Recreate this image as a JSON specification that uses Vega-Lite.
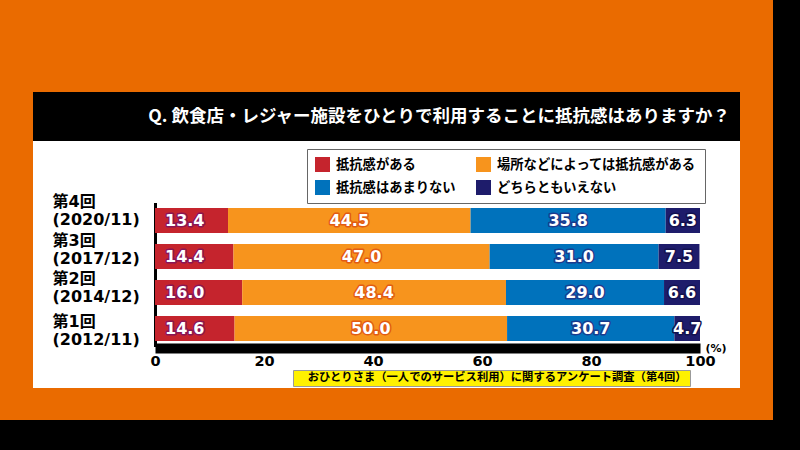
{
  "$schema": "https://vega.github.io/schema/vega-lite/v6.json",
  "background": "#EA6B00",
  "padding": 0,
  "config": {
    "view": {"stroke": null},
    "font": "Noto Sans CJK JP"
  },
  "spacing": 0,
  "resolve": {"scale": {"color": "independent", "shape": "independent", "fill": "independent", "stroke": "independent"}},
  "vconcat": [
    {
      "spacing": 0,
      "resolve": {"scale": {"color": "independent", "shape": "independent", "fill": "independent", "stroke": "independent"}},
      "hconcat": [
        {
          "width": 33, "height": 420,
          "view": {"fill": null, "stroke": null},
          "data": {"values": []},
          "mark": {"type": "point", "opacity": 0},
          "encoding": {}
        },
        {
          "spacing": 0,
          "resolve": {"scale": {"color": "independent", "shape": "independent", "fill": "independent", "stroke": "independent"}},
          "vconcat": [
            {
              "width": 707, "height": 92,
              "view": {"fill": null, "stroke": null},
              "data": {"values": []},
              "mark": {"type": "point", "opacity": 0},
              "encoding": {}
            },
            {
              "width": 707,
              "height": 49,
              "view": {"fill": "black", "stroke": null},
              "data": {"values": [{"t": "Q. 飲食店・レジャー施設をひとりで利用することに抵抗感はありますか？"}]},
              "mark": {"type": "text", "align": "right", "baseline": "middle", "dx": -10, "font": "Noto Sans CJK JP", "fontSize": 17.5, "fontWeight": "bold", "color": "white"},
              "encoding": {
                "text": {"field": "t", "type": "nominal"},
                "x": {"value": "width"}
              }
            },
            {
              "width": 707,
              "height": 247,
              "view": {"fill": "white", "stroke": null},
              "data": {"values": [
                {"round": "第4回|(2020/11)", "cat": "抵抗感がある", "k": 1, "pct": 13.4},
                {"round": "第4回|(2020/11)", "cat": "場所などによっては抵抗感がある", "k": 2, "pct": 44.5},
                {"round": "第4回|(2020/11)", "cat": "抵抗感はあまりない", "k": 3, "pct": 35.8},
                {"round": "第4回|(2020/11)", "cat": "どちらともいえない", "k": 4, "pct": 6.3},
                {"round": "第3回|(2017/12)", "cat": "抵抗感がある", "k": 1, "pct": 14.4},
                {"round": "第3回|(2017/12)", "cat": "場所などによっては抵抗感がある", "k": 2, "pct": 47.0},
                {"round": "第3回|(2017/12)", "cat": "抵抗感はあまりない", "k": 3, "pct": 31.0},
                {"round": "第3回|(2017/12)", "cat": "どちらともいえない", "k": 4, "pct": 7.5},
                {"round": "第2回|(2014/12)", "cat": "抵抗感がある", "k": 1, "pct": 16.0},
                {"round": "第2回|(2014/12)", "cat": "場所などによっては抵抗感がある", "k": 2, "pct": 48.4},
                {"round": "第2回|(2014/12)", "cat": "抵抗感はあまりない", "k": 3, "pct": 29.0},
                {"round": "第2回|(2014/12)", "cat": "どちらともいえない", "k": 4, "pct": 6.6},
                {"round": "第1回|(2012/11)", "cat": "抵抗感がある", "k": 1, "pct": 14.6},
                {"round": "第1回|(2012/11)", "cat": "場所などによっては抵抗感がある", "k": 2, "pct": 50.0},
                {"round": "第1回|(2012/11)", "cat": "抵抗感はあまりない", "k": 3, "pct": 30.7},
                {"round": "第1回|(2012/11)", "cat": "どちらともいえない", "k": 4, "pct": 4.7}
              ]},
              "layer": [
                {
                  "transform": [{"stack": "pct", "groupby": ["round"], "sort": [{"field": "k", "order": "ascending"}], "as": ["v0", "v1"]}],
                  "mark": {"type": "bar"},
                  "encoding": {
                    "x": {
                      "field": "v0", "type": "quantitative",
                      "scale": {"domain": [0, 100], "range": [122, 667], "nice": false, "zero": true},
                      "axis": {
                        "orient": "bottom", "offset": -40, "values": [0, 20, 40, 60, 80, 100], "grid": false,
                        "domainColor": "black", "domainWidth": 10, "domainCap": "butt",
                        "tickColor": "white", "tickWidth": 5, "tickSize": 1, "tickCap": "round",
                        "tickOpacity": {"condition": {"test": "datum.value == 0 || datum.value == 100", "value": 0}, "value": 1},
                        "labelPadding": 5, "labelFont": "DejaVu Sans", "labelFontSize": 14.5, "labelFontWeight": "bold", "labelColor": "black",
                        "labelFlush": false, "labelOverlap": false,
                        "title": "(%)", "titleX": 672, "titleY": 0, "titleAlign": "left", "titleBaseline": "middle",
                        "titleFont": "DejaVu Sans", "titleFontSize": 11, "titleFontWeight": "bold", "titleColor": "black", "titleAngle": 0
                      }
                    },
                    "x2": {"field": "v1"},
                    "y": {
                      "field": "round", "type": "nominal",
                      "scale": {"domain": ["第4回|(2020/11)", "第3回|(2017/12)", "第2回|(2014/12)", "第1回|(2012/11)"], "range": [61.5, 205.5], "paddingInner": 0.306, "paddingOuter": 0.153},
                      "axis": {
                        "orient": "left", "offset": -122, "title": null,
                        "domainColor": "black", "domainWidth": 3, "ticks": false, "tickSize": 0, "grid": false,
                        "labelAlign": "left", "labelPadding": 103, "labelBaseline": "middle", "labelLineHeight": 18,
                        "labelFont": "DejaVu Sans, Noto Sans CJK JP", "labelFontSize": 16, "labelFontWeight": "bold", "labelColor": "black",
                        "labelExpr": "split(datum.label, '|')",
                        "labelOffset": {"condition": [
                          {"test": "datum.value == '第4回|(2020/11)'", "value": -19},
                          {"test": "datum.value == '第3回|(2017/12)'", "value": -15.5},
                          {"test": "datum.value == '第2回|(2014/12)'", "value": -13.5}
                        ], "value": -7}
                      }
                    },
                    "color": {
                      "field": "cat", "type": "nominal",
                      "scale": {"domain": ["抵抗感がある", "場所などによっては抵抗感がある", "抵抗感はあまりない", "どちらともいえない"], "range": ["#C5242D", "#F7941D", "#0072BC", "#1E1C6B"]},
                      "legend": {
                        "orient": "none", "legendX": 274, "legendY": 8, "columns": 2, "direction": "horizontal", "title": null,
                        "symbolType": "square", "symbolSize": 225, "symbolStrokeWidth": 0, "symbolOpacity": 1,
                        "labelFont": "Noto Sans CJK JP", "labelFontSize": 13.3, "labelFontWeight": "bold", "labelColor": "black",
                        "labelOffset": 6, "labelLimit": 300, "rowPadding": 8, "columnPadding": 20, "padding": 8,
                        "strokeColor": "#666666", "fillColor": "white"
                      }
                    }
                  }
                },
                {
                  "transform": [
                    {"stack": "pct", "groupby": ["round"], "sort": [{"field": "k", "order": "ascending"}], "as": ["v0", "v1"]},
                    {"filter": "datum.k == 1"}
                  ],
                  "mark": {"type": "text", "align": "left", "baseline": "middle", "dx": 10, "font": "DejaVu Sans", "fontSize": 16, "fontWeight": "bold", "fill": "#8A1655", "stroke": "#8A1655", "strokeWidth": 3, "strokeJoin": "round"},
                  "encoding": {
                    "x": {"field": "v0", "type": "quantitative"},
                    "y": {"field": "round", "type": "nominal"},
                    "text": {"field": "pct", "type": "quantitative", "format": ".1f"}
                  }
                },
                {
                  "transform": [
                    {"stack": "pct", "groupby": ["round"], "sort": [{"field": "k", "order": "ascending"}], "as": ["v0", "v1"]},
                    {"filter": "datum.k == 1"}
                  ],
                  "mark": {"type": "text", "align": "left", "baseline": "middle", "dx": 10, "font": "DejaVu Sans", "fontSize": 16, "fontWeight": "bold", "fill": "white"},
                  "encoding": {
                    "x": {"field": "v0", "type": "quantitative"},
                    "y": {"field": "round", "type": "nominal"},
                    "text": {"field": "pct", "type": "quantitative", "format": ".1f"}
                  }
                },
                {
                  "transform": [
                    {"stack": "pct", "groupby": ["round"], "sort": [{"field": "k", "order": "ascending"}], "as": ["v0", "v1"]},
                    {"filter": "datum.k > 1"},
                    {"fold": ["v0", "v1"], "as": ["edge", "pos"]}
                  ],
                  "mark": {"type": "text", "align": "center", "baseline": "middle", "font": "DejaVu Sans", "fontSize": 16, "fontWeight": "bold", "strokeWidth": 3, "strokeJoin": "round"},
                  "encoding": {
                    "x": {"aggregate": "mean", "field": "pos", "type": "quantitative"},
                    "y": {"field": "round", "type": "nominal"},
                    "detail": {"field": "cat", "type": "nominal"},
                    "text": {"field": "pct", "type": "quantitative", "format": ".1f"},
                    "fill": {"field": "cat", "type": "nominal", "scale": {"domain": ["場所などによっては抵抗感がある", "抵抗感はあまりない", "どちらともいえない"], "range": ["#E25B12", "#1B3B8E", "#13114F"]}, "legend": null},
                    "stroke": {"field": "cat", "type": "nominal", "scale": {"domain": ["場所などによっては抵抗感がある", "抵抗感はあまりない", "どちらともいえない"], "range": ["#E25B12", "#1B3B8E", "#13114F"]}, "legend": null}
                  }
                },
                {
                  "transform": [
                    {"stack": "pct", "groupby": ["round"], "sort": [{"field": "k", "order": "ascending"}], "as": ["v0", "v1"]},
                    {"filter": "datum.k > 1"},
                    {"fold": ["v0", "v1"], "as": ["edge", "pos"]}
                  ],
                  "mark": {"type": "text", "align": "center", "baseline": "middle", "font": "DejaVu Sans", "fontSize": 16, "fontWeight": "bold", "fill": "white"},
                  "encoding": {
                    "x": {"aggregate": "mean", "field": "pos", "type": "quantitative"},
                    "y": {"field": "round", "type": "nominal"},
                    "detail": {"field": "cat", "type": "nominal"},
                    "text": {"field": "pct", "type": "quantitative", "format": ".1f"}
                  }
                },
                {
                  "data": {"values": [{"src": "おひとりさま（一人でのサービス利用）に関するアンケート調査（第4回）"}]},
                  "mark": {"type": "point", "opacity": 0},
                  "encoding": {
                    "shape": {
                      "field": "src", "type": "nominal",
                      "legend": {
                        "orient": "none", "legendX": 260, "legendY": 229, "title": null,
                        "symbolOpacity": 0, "symbolSize": 1, "symbolStrokeWidth": 0,
                        "labelOffset": 1, "labelFont": "Noto Sans CJK JP", "labelFontSize": 11.3, "labelFontWeight": "bold", "labelColor": "black",
                        "labelLimit": 600, "padding": 2.5, "fillColor": "#FFF100", "strokeColor": "#9A9A9A"
                      }
                    }
                  }
                }
              ]
            }
          ]
        },
        {
          "width": 33, "height": 420,
          "view": {"fill": null, "stroke": null},
          "data": {"values": []},
          "mark": {"type": "point", "opacity": 0},
          "encoding": {}
        },
        {
          "width": 27, "height": 420,
          "view": {"fill": "black", "stroke": null},
          "data": {"values": []},
          "mark": {"type": "point", "opacity": 0},
          "encoding": {}
        }
      ]
    },
    {
      "width": 800,
      "height": 30,
      "view": {"fill": "black", "stroke": null},
      "data": {"values": []},
      "mark": {"type": "point", "opacity": 0},
      "encoding": {}
    }
  ]
}
